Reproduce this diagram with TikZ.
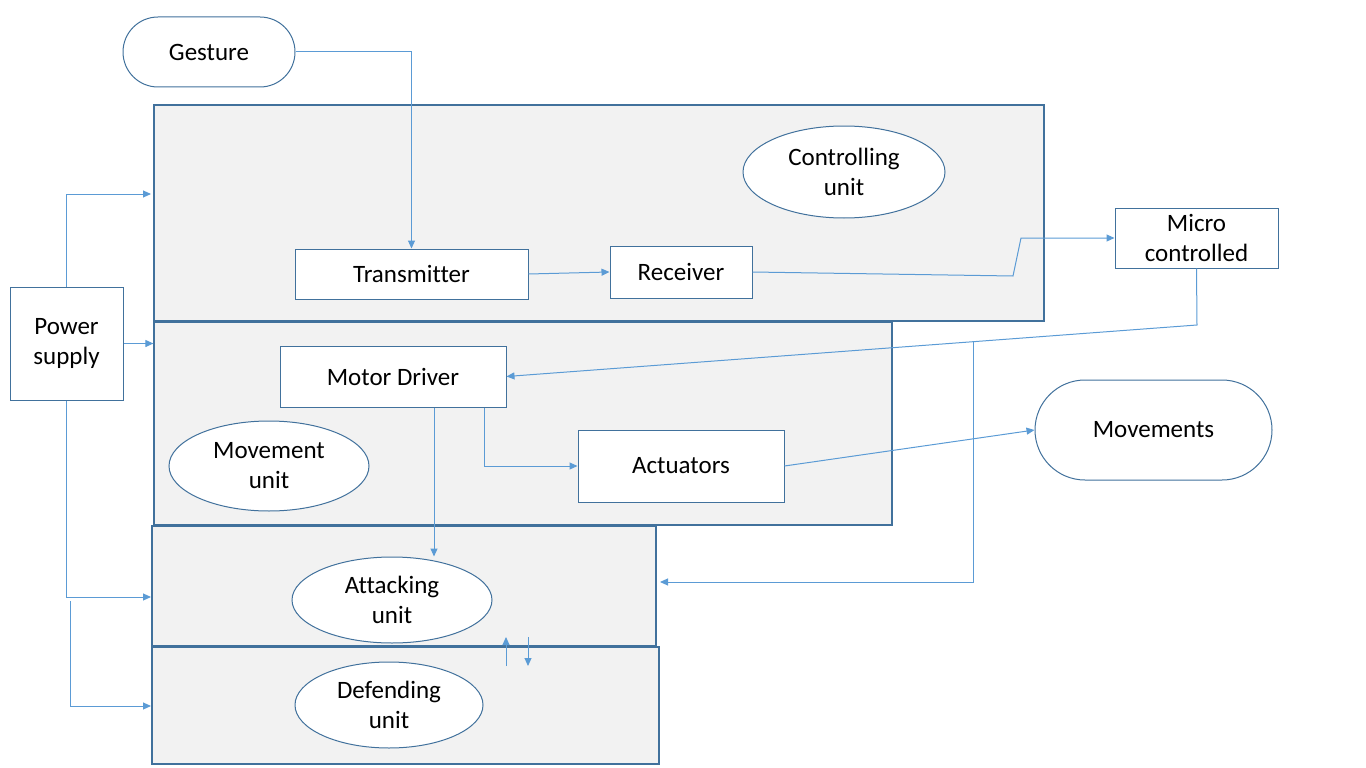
\documentclass[tikz,border=0pt]{standalone}
\usepackage{fontspec}
\setmainfont[Ligatures=NoCommon]{Carlito}
\usetikzlibrary{arrows.meta,shapes.geometric,calc}
\definecolor{edgeblue}{HTML}{41719C}
\definecolor{wireblue}{HTML}{5B9BD5}
\definecolor{panelgray}{HTML}{F2F2F2}
\newcommand\diaglabel{\fontsize{25}{30}\selectfont}
\begin{document}
\begin{tikzpicture}[x=1pt,y=-1pt,
  panel/.style={draw=edgeblue,fill=panelgray,line width=1.2pt,inner sep=0pt},
  box/.style={draw=edgeblue,fill=white,line width=1pt,inner sep=0pt,align=center,font=\diaglabel},
  oval/.style={ellipse,draw=edgeblue,fill=white,line width=1pt,inner sep=0pt,align=center,font=\diaglabel},
  wire/.style={draw=wireblue,line width=1pt},
  flow/.style={wire,-{Triangle[length=8pt,width=7pt]}}
]
\useasboundingbox (0,0) rectangle (1366,768);

% unit panels
\node[panel,minimum width=890pt,minimum height=216pt] (ctrl) at (599,213) {};
\node[panel,minimum width=738pt,minimum height=203pt] (move) at (523,423.5) {};
\node[panel,minimum width=504pt,minimum height=120pt] (attack) at (404,586) {};
\node[panel,minimum width=507pt,minimum height=117pt] (defend) at (405.5,705.5) {};

% unit labels
\node[oval,minimum width=202pt,minimum height=92pt] (cue) at (844,172) {Controlling\\unit};
\node[oval,minimum width=200pt,minimum height=90pt] (mue) at (269,466) {Movement\\unit};
\node[oval,minimum width=200pt,minimum height=86pt] (aue) at (392,600) {Attacking\\unit};
\node[oval,minimum width=188pt,minimum height=86pt] (due) at (389,705) {Defending\\unit};

% blocks
\node[box,rounded corners=35pt,minimum width=172pt,minimum height=70pt] (gest) at (209,52) {Gesture};
\node[box,minimum width=233pt,minimum height=50pt] (tx) at (411.5,274) {Transmitter};
\node[box,minimum width=142pt,minimum height=52pt] (rx) at (681,272) {Receiver};
\node[box,minimum width=163pt,minimum height=60pt] (mc) at (1196.5,238) {Micro\\controlled};
\node[box,minimum width=113pt,minimum height=113pt] (ps) at (66.5,343.5) {Power\\supply};
\node[box,minimum width=226pt,minimum height=61pt] (md) at (393,376.5) {Motor Driver};
\node[box,minimum width=206pt,minimum height=72pt] (act) at (681,466) {Actuators};
\node[box,rounded corners=50pt,minimum width=237pt,minimum height=100pt] (mv) at (1153.5,430) {Movements};

% signal path
\draw[flow] (gest.east) -| (tx.north);
\draw[flow] (tx.east) -- (rx.west);
\coordinate (r1) at (1013,276);
\coordinate (r2) at (1021,238);
\draw[flow] (rx.east) -- (r1) -- (r2) -- (mc.west);
\coordinate (m1) at (1197,325);
\draw[flow] (mc.south) -- (m1) -- (md.east);
\coordinate (m2) at (973,342);
\coordinate (m3) at (973,582);
\coordinate (m4) at (660,582);
\draw[flow] (m2) -- (m3) -- (m4);
\coordinate (d1) at ([xshift=-22pt]md.south east);
\draw[flow] (d1) |- (act.west);
\coordinate (d2) at ([xshift=41pt]md.south);
\draw[flow] (d2) -- (d2 |- aue.north);
\draw[flow] (act.east) -- (mv.west);

% power distribution
\coordinate (p1) at (151,194);
\draw[flow] (ps.north) |- (p1);
\draw[flow] (ps.east) -- (ps.east -| move.west);
\coordinate (p2) at (151,597);
\draw[flow] (ps.south) |- (p2);
\coordinate (p3) at (70,601);
\coordinate (p4) at (151,706);
\draw[flow] (p3) |- (p4);

% exchange between attacking and defending units
\coordinate (x1) at (506,666);
\coordinate (x2) at (506,637);
\coordinate (x3) at (528,637);
\coordinate (x4) at (528,666);
\draw[flow] (x1) -- (x2);
\draw[flow] (x3) -- (x4);
\end{tikzpicture}
\end{document}
